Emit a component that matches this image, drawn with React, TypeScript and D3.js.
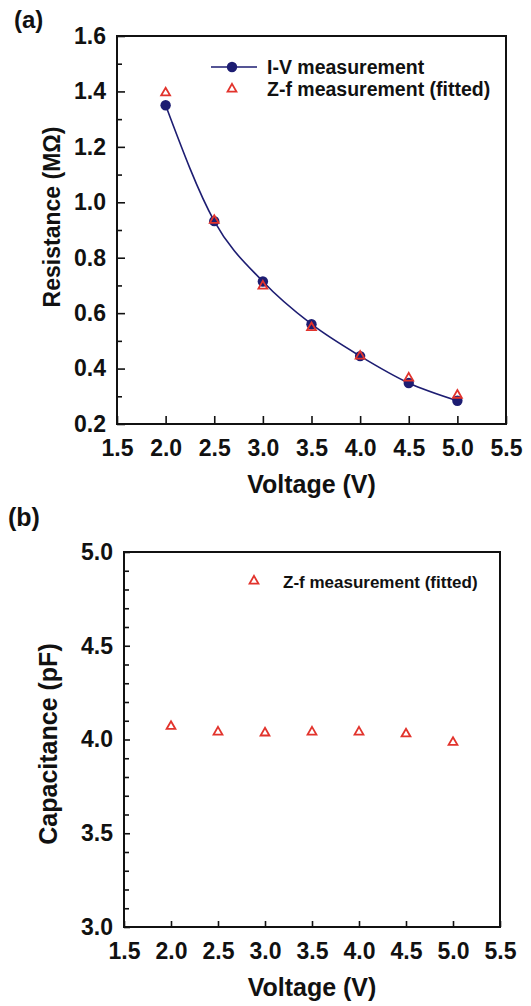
import React, { useEffect, useRef } from "react";
import * as d3 from "d3";

// values
const voltages = [2.0, 2.5, 3.0, 3.5, 4.0, 4.5, 5.0];
const ivResistance = [1.35, 0.932, 0.714, 0.56, 0.445, 0.348, 0.284];
const zfResistance = [1.395, 0.935, 0.698, 0.548, 0.445, 0.366, 0.304];
const zfCapacitance = [4.07, 4.04, 4.035, 4.04, 4.04, 4.03, 3.985];

const xTicks = [1.5, 2.0, 2.5, 3.0, 3.5, 4.0, 4.5, 5.0, 5.5];
const resTicks = [0.2, 0.4, 0.6, 0.8, 1.0, 1.2, 1.4, 1.6];
const capTicks = [3.0, 3.5, 4.0, 4.5, 5.0];

const FONT = "'Liberation Sans', Arial, Helvetica, sans-serif";
const NAVY = "#1d1d72";
const RED = "#e2332c";

type Frame = { left: number; right: number; top: number; bottom: number };

const App = () => {
  const svgRef = useRef<SVGSVGElement>(null);

  useEffect(() => {
    const svg = d3.select(svgRef.current);
    svg.selectAll("*").remove();

    const tri = d3.symbol().type(d3.symbolTriangle).size(34);

    // shared frame + axes for one panel
    const drawFrame = (
      f: Frame,
      x: d3.ScaleLinear<number, number>,
      y: d3.ScaleLinear<number, number>,
      yTicks: number[],
      yMinor: number[],
      majorLen: number
    ) => {
      const g = svg.append("g");
      // x axis (major ticks only, inward)
      const xa = g
        .append("g")
        .attr("transform", `translate(0,${f.bottom})`)
        .call(
          d3
            .axisBottom(x)
            .tickValues(xTicks)
            .tickSize(-majorLen)
            .tickPadding(16)
            .tickFormat(d3.format(".1f"))
        );
      xa.select(".domain").remove();
      // y axis major
      const ya = g
        .append("g")
        .attr("transform", `translate(${f.left},0)`)
        .call(
          d3
            .axisLeft(y)
            .tickValues(yTicks)
            .tickSize(-majorLen)
            .tickPadding(11)
            .tickFormat(d3.format(".1f"))
        );
      ya.select(".domain").remove();
      // y axis minor
      const ym = g
        .append("g")
        .attr("transform", `translate(${f.left},0)`)
        .call(d3.axisLeft(y).tickValues(yMinor).tickSize(-5).tickFormat(() => ""));
      ym.select(".domain").remove();

      g.selectAll(".tick line").attr("stroke", "#111").attr("stroke-width", 1.6);
      g.selectAll(".tick text")
        .attr("font-family", FONT)
        .attr("font-weight", "bold")
        .attr("font-size", 23)
        .attr("fill", "#111");

      g.append("rect")
        .attr("x", f.left)
        .attr("y", f.top)
        .attr("width", f.right - f.left)
        .attr("height", f.bottom - f.top)
        .attr("fill", "none")
        .attr("stroke", "#111")
        .attr("stroke-width", 2);

      g.append("text")
        .attr("x", (f.left + f.right) / 2)
        .attr("y", f.bottom + 69)
        .attr("text-anchor", "middle")
        .attr("font-family", FONT)
        .attr("font-weight", "bold")
        .attr("font-size", 25)
        .attr("fill", "#111")
        .text("Voltage (V)");
      return g;
    };

    // ---------- panel (a) ----------
    const fa: Frame = { left: 117, right: 506, top: 36, bottom: 424 };
    const xa = d3.scaleLinear().domain([1.5, 5.5]).range([fa.left, fa.right]);
    const ya = d3.scaleLinear().domain([0.2, 1.6]).range([fa.bottom, fa.top]);
    const resMinor = d3.range(0.3, 1.6, 0.2).map((v) => +v.toFixed(1));
    const ga = drawFrame(fa, xa, ya, resTicks, resMinor, 8);

    const ivPts = voltages.map((v, i) => [v, ivResistance[i]] as [number, number]);
    ga.append("path")
      .attr(
        "d",
        d3
          .line<[number, number]>()
          .x((d) => xa(d[0]))
          .y((d) => ya(d[1]))
          .curve(d3.curveMonotoneX)(ivPts)
      )
      .attr("fill", "none")
      .attr("stroke", NAVY)
      .attr("stroke-width", 1.6);

    ga.selectAll(".iv")
      .data(ivPts)
      .enter()
      .append("circle")
      .attr("cx", (d) => xa(d[0]))
      .attr("cy", (d) => ya(d[1]))
      .attr("r", 5.2)
      .attr("fill", NAVY);

    ga.selectAll(".zf")
      .data(voltages.map((v, i) => [v, zfResistance[i]]))
      .enter()
      .append("path")
      .attr("d", tri)
      .attr("transform", (d) => `translate(${xa(d[0])},${ya(d[1])})`)
      .attr("fill", "none")
      .attr("stroke", RED)
      .attr("stroke-width", 1.8);

    // legend (a)
    ga.append("line")
      .attr("x1", 211)
      .attr("x2", 257)
      .attr("y1", 67)
      .attr("y2", 67)
      .attr("stroke", NAVY)
      .attr("stroke-width", 1.6);
    ga.append("circle").attr("cx", 232).attr("cy", 67).attr("r", 5.2).attr("fill", NAVY);
    ga.append("path")
      .attr("d", tri)
      .attr("transform", "translate(232,89)")
      .attr("fill", "none")
      .attr("stroke", RED)
      .attr("stroke-width", 1.8);
    const legA = [
      ["I-V measurement", 74],
      ["Z-f measurement (fitted)", 96],
    ] as [string, number][];
    legA.forEach(([t, yy]) =>
      ga
        .append("text")
        .attr("x", 267)
        .attr("y", yy)
        .attr("font-family", FONT)
        .attr("font-weight", "bold")
        .attr("font-size", 19.5)
        .attr("fill", "#111")
        .text(t)
    );

    ga.append("text")
      .attr("transform", "translate(60,217) rotate(-90)")
      .attr("text-anchor", "middle")
      .attr("font-family", FONT)
      .attr("font-weight", "bold")
      .attr("font-size", 23)
      .attr("fill", "#111")
      .text("Resistance (MΩ)");

    ga.append("text")
      .attr("x", 14)
      .attr("y", 28)
      .attr("font-family", FONT)
      .attr("font-weight", "bold")
      .attr("font-size", 24)
      .attr("fill", "#111")
      .text("(a)");

    // ---------- panel (b) ----------
    const fb: Frame = { left: 124, right: 500, top: 552, bottom: 927 };
    const xb = d3.scaleLinear().domain([1.5, 5.5]).range([fb.left, fb.right]);
    const yb = d3.scaleLinear().domain([3.0, 5.0]).range([fb.bottom, fb.top]);
    const capMinor = d3
      .range(3.1, 5.0, 0.1)
      .map((v) => +v.toFixed(1))
      .filter((v) => Math.abs(v * 2 - Math.round(v * 2)) > 0.01);
    const gb = drawFrame(fb, xb, yb, capTicks, capMinor, 6);

    gb.selectAll(".zfc")
      .data(voltages.map((v, i) => [v, zfCapacitance[i]]))
      .enter()
      .append("path")
      .attr("d", tri)
      .attr("transform", (d) => `translate(${xb(d[0])},${yb(d[1])})`)
      .attr("fill", "none")
      .attr("stroke", RED)
      .attr("stroke-width", 1.8);

    gb.append("path")
      .attr("d", tri)
      .attr("transform", "translate(254,581)")
      .attr("fill", "none")
      .attr("stroke", RED)
      .attr("stroke-width", 1.8);
    gb.append("text")
      .attr("x", 283)
      .attr("y", 588)
      .attr("font-family", FONT)
      .attr("font-weight", "bold")
      .attr("font-size", 17)
      .attr("fill", "#111")
      .text("Z-f measurement (fitted)");

    gb.append("text")
      .attr("transform", "translate(57,744) rotate(-90)")
      .attr("text-anchor", "middle")
      .attr("font-family", FONT)
      .attr("font-weight", "bold")
      .attr("font-size", 25)
      .attr("fill", "#111")
      .text("Capacitance (pF)");

    gb.append("text")
      .attr("x", 8)
      .attr("y", 526)
      .attr("font-family", FONT)
      .attr("font-weight", "bold")
      .attr("font-size", 25)
      .attr("fill", "#111")
      .text("(b)");
  }, []);

  return (
    <svg
      ref={svgRef}
      width={531}
      height={1006}
      style={{ position: "absolute", left: 0, top: 0, background: "#fff" }}
    />
  );
};

export default App;
